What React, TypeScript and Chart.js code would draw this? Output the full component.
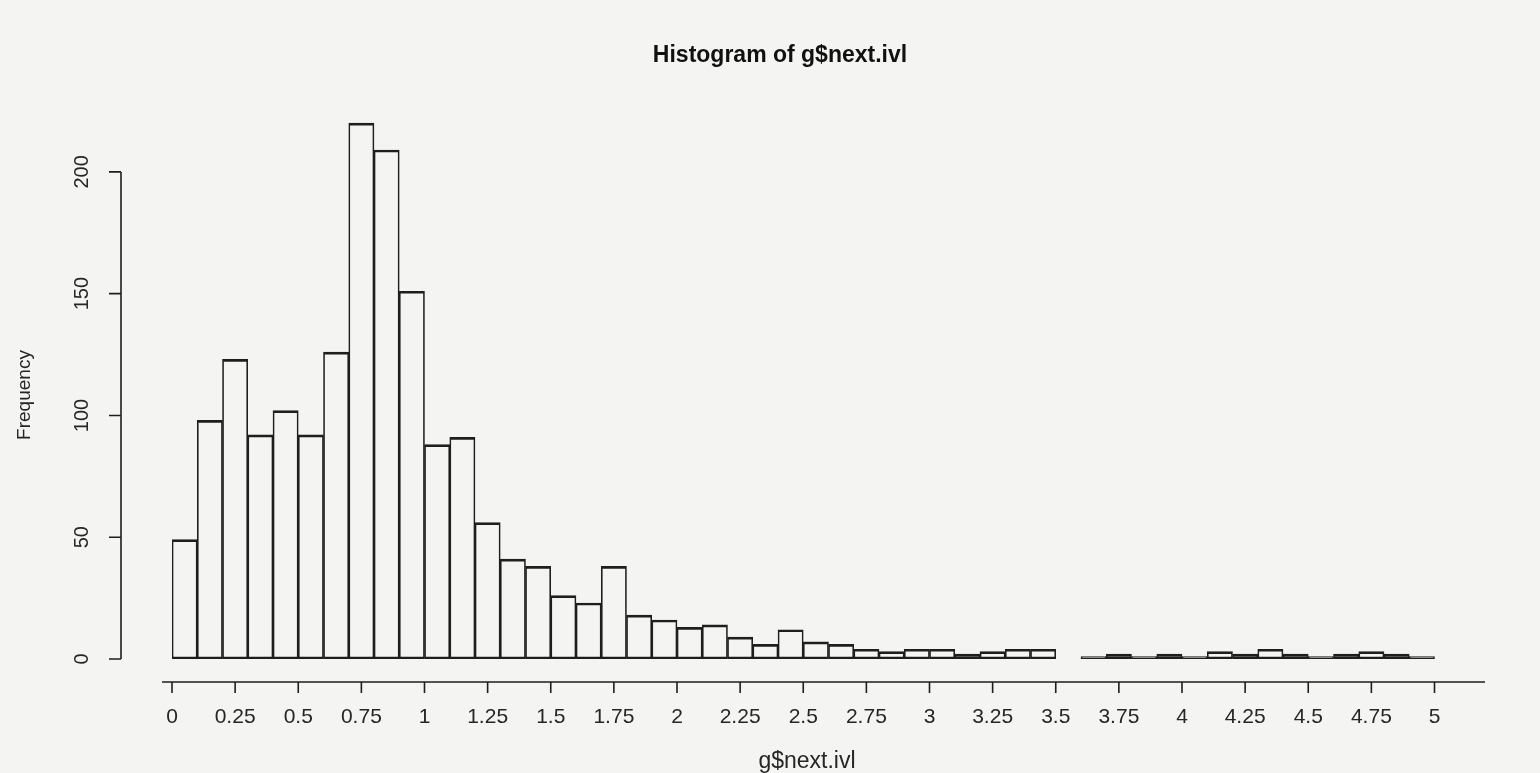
import React, { useEffect, useRef } from "react";
import { Chart, registerables } from "chart.js";

Chart.register(...registerables);

const chartTitle = "Histogram of g$next.ivl";
const xAxisTitle = "g$next.ivl";
const yAxisTitle = "Frequency";

const binWidth = 0.1;
const binLower = [
  0, 0.1, 0.2, 0.3, 0.4, 0.5, 0.6, 0.7, 0.8, 0.9,
  1.0, 1.1, 1.2, 1.3, 1.4, 1.5, 1.6, 1.7, 1.8, 1.9,
  2.0, 2.1, 2.2, 2.3, 2.4, 2.5, 2.6, 2.7, 2.8, 2.9,
  3.0, 3.1, 3.2, 3.3, 3.4, 3.5, 3.6, 3.7, 3.8, 3.9,
  4.0, 4.1, 4.2, 4.3, 4.4, 4.5, 4.6, 4.7, 4.8, 4.9,
];
const frequencies = [
  49, 98, 123, 92, 102, 92, 126, 220, 209, 151,
  88, 91, 56, 41, 38, 26, 23, 38, 18, 16,
  13, 14, 9, 6, 12, 7, 6, 4, 3, 4,
  4, 2, 3, 4, 4, 0, 1, 2, 1, 2,
  1, 3, 2, 4, 2, 1, 2, 3, 2, 1,
];

const xTicks = [0, 0.25, 0.5, 0.75, 1, 1.25, 1.5, 1.75, 2, 2.25, 2.5, 2.75, 3, 3.25, 3.5, 3.75, 4, 4.25, 4.5, 4.75, 5];
const xTickLabels = ["0", "0.25", "0.5", "0.75", "1", "1.25", "1.5", "1.75", "2", "2.25", "2.5", "2.75", "3", "3.25", "3.5", "3.75", "4", "4.25", "4.5", "4.75", "5"];
const yTicks = [0, 50, 100, 150, 200];
const yTickLabels = ["0", "50", "100", "150", "200"];

const FONT = "'Liberation Sans', Arial, sans-serif";
const INK = "#1e1e1e";

const rAxesPlugin = {
  id: "rAxes",
  afterDraw(chart: any) {
    const { ctx, chartArea, scales } = chart;
    const xs = scales.x;
    const ys = scales.y;
    ctx.save();
    ctx.strokeStyle = INK;
    ctx.fillStyle = "#262626";
    ctx.lineWidth = 1.6;

    // x axis (R style, offset below bars)
    const axY = ys.getPixelForValue(0) + 23;
    ctx.beginPath();
    ctx.moveTo(xs.getPixelForValue(0) - 10, axY);
    ctx.lineTo(chartArea.right, axY);
    xTicks.forEach((t) => {
      const px = xs.getPixelForValue(t);
      ctx.moveTo(px, axY);
      ctx.lineTo(px, axY + 11);
    });
    ctx.stroke();
    ctx.font = `21px ${FONT}`;
    ctx.textAlign = "center";
    ctx.textBaseline = "middle";
    xTicks.forEach((t, i) => {
      ctx.fillText(xTickLabels[i], xs.getPixelForValue(t), axY + 35);
    });

    // y axis
    const axX = chartArea.left - 51;
    ctx.beginPath();
    ctx.moveTo(axX, ys.getPixelForValue(yTicks[0]));
    ctx.lineTo(axX, ys.getPixelForValue(yTicks[yTicks.length - 1]));
    yTicks.forEach((t) => {
      const py = ys.getPixelForValue(t);
      ctx.moveTo(axX, py);
      ctx.lineTo(axX - 12, py);
    });
    ctx.stroke();
    ctx.font = `20px ${FONT}`;
    yTicks.forEach((t, i) => {
      ctx.save();
      ctx.translate(axX - 39, ys.getPixelForValue(t));
      ctx.rotate(-Math.PI / 2);
      ctx.fillText(yTickLabels[i], 0, 0);
      ctx.restore();
    });

    // axis titles
    ctx.save();
    ctx.font = `19px ${FONT}`;
    ctx.translate(25, 395);
    ctx.rotate(-Math.PI / 2);
    ctx.fillText(yAxisTitle, 0, 0);
    ctx.restore();

    ctx.font = `23px ${FONT}`;
    ctx.fillText(xAxisTitle, 807, 762);

    // main title
    ctx.fillStyle = "#111";
    ctx.font = `bold 23px ${FONT}`;
    ctx.fillText(chartTitle, 780, 56);
    ctx.restore();
  },
};

export default function App() {
  const canvasRef = useRef<HTMLCanvasElement | null>(null);

  useEffect(() => {
    if (!canvasRef.current) return;
    const data = frequencies.map((v, i) => ({ x: binLower[i] + binWidth / 2, y: v }));
    const chart = new Chart(canvasRef.current, {
      type: "bar",
      data: {
        datasets: [
          {
            label: "Frequency",
            data,
            backgroundColor: "rgba(0,0,0,0)",
            borderColor: INK,
            borderWidth: { top: 2, bottom: 2, left: 1, right: 1 },
            borderSkipped: false,
            barPercentage: 1,
            categoryPercentage: 1,
          } as any,
        ],
      },
      options: {
        animation: false,
        responsive: true,
        maintainAspectRatio: false,
        devicePixelRatio: 1,
        layout: { padding: { left: 172, right: 55, top: 111, bottom: 114 } },
        plugins: {
          legend: { display: false },
          title: { display: false },
          tooltip: { enabled: false },
        },
        scales: {
          x: { type: "linear", min: 0, max: 5.2, offset: false, display: false },
          y: { type: "linear", min: 0, max: 225, display: false },
        },
      },
      plugins: [rAxesPlugin],
    });
    return () => chart.destroy();
  }, []);

  return (
    <div
      style={{
        position: "fixed",
        left: 0,
        top: 0,
        width: 1540,
        height: 773,
        background: "#f4f4f2",
      }}
    >
      <canvas ref={canvasRef} />
    </div>
  );
}
